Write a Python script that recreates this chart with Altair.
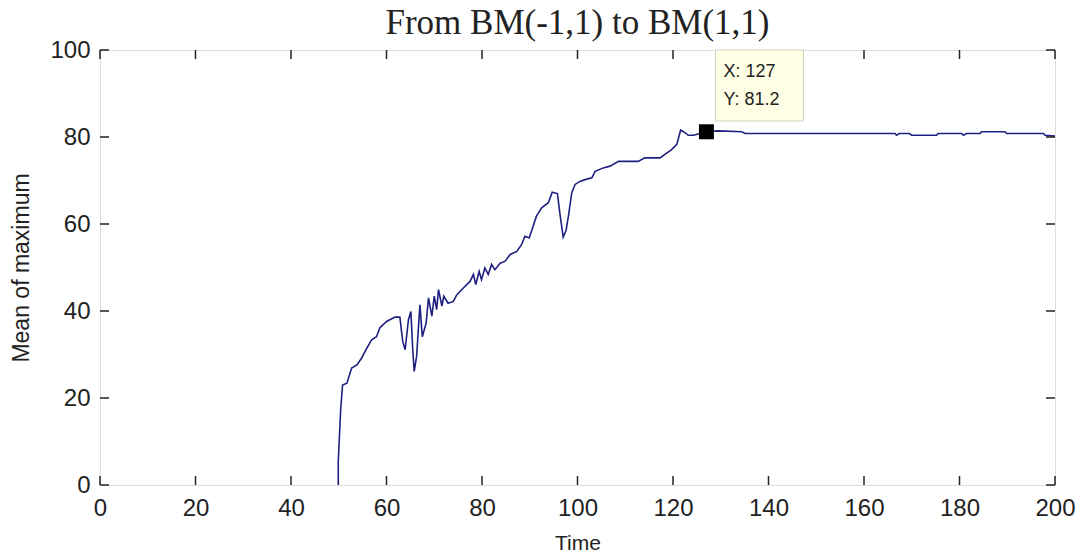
import altair as alt
import pandas as pd

# ---- data ----
time = [49.9, 49.9, 50.4, 50.8, 51.7, 52.7, 53.8, 54.8, 55.9, 56.9, 57.9, 58.6, 60.0,
        61.8, 62.8, 63.4, 63.9, 64.6, 65.1, 65.5, 65.8, 66.3, 67.0, 67.5, 68.3, 68.8,
        69.5, 70.0, 70.5, 70.9, 71.6, 72.0, 72.9, 74.0, 74.7, 76.1, 77.5, 78.2, 78.7,
        79.4, 79.9, 80.6, 81.3, 82.0, 82.7, 83.8, 84.8, 85.9, 87.3, 88.3, 89.0, 89.9,
        90.7, 91.4, 92.5, 93.9, 94.7, 95.8, 96.3, 97.0, 97.6, 98.1, 98.8, 99.5, 100.5,
        101.6, 103.0, 103.7, 105.4, 106.8, 108.6, 112.7, 114.1, 117.3, 118.3, 119.7,
        120.8, 121.6, 122.5, 123.2, 124.3, 127.0, 129.5, 134.4, 135.1, 166.5, 166.8,
        167.4, 169.5, 170.0, 175.2, 175.5, 180.5, 180.8, 181.5, 184.3, 184.6, 189.5,
        189.9, 197.6, 197.9, 200.0]
mean_max = [0.0, 5.4, 17.3, 23.0, 23.4, 26.9, 27.6, 29.2, 31.5, 33.4, 34.1, 36.1, 37.6,
            38.6, 38.6, 33.0, 31.1, 38.0, 39.9, 31.1, 26.1, 29.5, 41.4, 34.1, 37.2, 43.0,
            38.8, 43.4, 40.3, 44.9, 41.1, 43.4, 41.8, 42.2, 43.7, 45.3, 46.8, 48.4, 46.1,
            49.1, 47.2, 49.9, 48.4, 50.7, 49.5, 51.0, 51.4, 53.0, 53.7, 55.3, 57.2, 56.8,
            59.5, 61.8, 63.7, 64.9, 67.3, 67.0, 62.5, 57.0, 58.5, 61.8, 67.2, 69.1, 69.8,
            70.2, 70.6, 72.1, 72.9, 73.3, 74.4, 74.4, 75.2, 75.2, 76.0, 77.1,
            78.3, 81.6, 81.0, 80.4, 80.4, 81.2, 81.4, 81.2, 80.8, 80.8, 80.4,
            80.8, 80.8, 80.4, 80.4, 80.8, 80.8, 80.4, 80.8, 80.8, 81.2, 81.2,
            80.8, 80.8, 80.4, 80.2]
x_ticks = [0, 20, 40, 60, 80, 100, 120, 140, 160, 180, 200]
y_ticks = [0, 20, 40, 60, 80, 100]
tip_x = [127]
tip_y = [81.2]

W, H = 955, 435
TICK = 9
LINE_COLOR = "#1f1f82"
SANS = "Liberation Sans"

df = pd.DataFrame({"t": time, "v": mean_max, "i": list(range(len(time)))})
xt = pd.DataFrame({"t": x_ticks})
yt = pd.DataFrame({"v": y_ticks})
tip = pd.DataFrame({"t": tip_x, "v": tip_y,
                    "lx": [f"X: {x}" for x in tip_x],
                    "ly": [f"Y: {y}" for y in tip_y]})

xs = alt.Scale(domain=[0, 200], nice=False, zero=False)
ys = alt.Scale(domain=[0, 100], nice=False, zero=False)

xaxis = alt.Axis(values=x_ticks, ticks=False, domain=False, grid=False,
                 labelFlush=False, labelOverlap=False,
                 labelFont=SANS, labelFontSize=24, labelColor="#222222",
                 labelPadding=11, title="Time", titleFont=SANS,
                 titleFontSize=21, titleFontWeight="normal", titleColor="#222222",
                 titlePadding=12)
yaxis = alt.Axis(values=y_ticks, ticks=False, domain=False, grid=False,
                 labelFlush=False, labelOverlap=False,
                 labelFont=SANS, labelFontSize=24, labelColor="#222222",
                 labelPadding=10, title="Mean of maximum", titleFont=SANS,
                 titleFontSize=23, titleFontWeight="normal", titleColor="#222222",
                 titlePadding=16)

line = alt.Chart(df).mark_line(color=LINE_COLOR, strokeWidth=1.6).encode(
    x=alt.X("t:Q", scale=xs, axis=xaxis),
    y=alt.Y("v:Q", scale=ys, axis=yaxis),
    order=alt.Order("i:Q"),
)

xt_bot = alt.Chart(xt).mark_rule(color="#222222", strokeWidth=1.5).encode(
    x=alt.X("t:Q", scale=xs), y=alt.value(H), y2=alt.value(H - TICK))
xt_top = alt.Chart(xt).mark_rule(color="#222222", strokeWidth=1.5).encode(
    x=alt.X("t:Q", scale=xs), y=alt.value(0), y2=alt.value(TICK))
yt_left = alt.Chart(yt).mark_rule(color="#222222", strokeWidth=1.5).encode(
    y=alt.Y("v:Q", scale=ys), x=alt.value(0), x2=alt.value(TICK))
yt_right = alt.Chart(yt).mark_rule(color="#222222", strokeWidth=1.5).encode(
    y=alt.Y("v:Q", scale=ys), x=alt.value(W), x2=alt.value(W - TICK))

tip_box = alt.Chart(tip).mark_rect(
    fill="#ffffe6", stroke="#cfcfbf", strokeWidth=1, xOffset=9, x2Offset=97
).encode(x=alt.X("t:Q", scale=xs), x2="t:Q", y=alt.value(0), y2=alt.value(71))

tip_tx = alt.Chart(tip).mark_text(
    align="left", baseline="middle", dx=17, font=SANS, fontSize=18,
    color="#222222"
).encode(x=alt.X("t:Q", scale=xs), y=alt.value(22), text="lx:N")
tip_ty = alt.Chart(tip).mark_text(
    align="left", baseline="middle", dx=17, font=SANS, fontSize=18,
    color="#222222"
).encode(x=alt.X("t:Q", scale=xs), y=alt.value(50), text="ly:N")

marker = alt.Chart(tip).mark_square(color="black", size=225, opacity=1).encode(
    x=alt.X("t:Q", scale=xs), y=alt.Y("v:Q", scale=ys))

chart = alt.layer(
    line, xt_bot, xt_top, yt_left, yt_right, tip_box, tip_tx, tip_ty, marker
).properties(
    width=W, height=H,
    title=alt.TitleParams("From BM(-1,1) to BM(1,1)", font="Liberation Serif",
                          fontSize=35, fontWeight="normal", color="#222222",
                          anchor="middle", offset=-3),
    padding={"left": 100, "top": 50, "right": 28, "bottom": 72},
    autosize=alt.AutoSizeParams(type="none"),
).configure_view(stroke="#222222", strokeWidth=1.5).configure(background="white")

chart.save("out.html", embed_options={"renderer": "svg", "actions": False})
